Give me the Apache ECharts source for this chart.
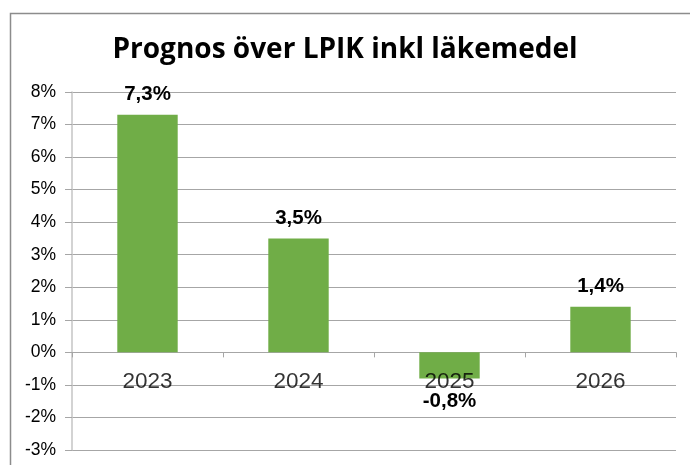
<!DOCTYPE html>
<html>
<head>
<meta charset="utf-8">
<script src="https://cdn.jsdelivr.net/npm/echarts@6/dist/echarts.min.js"></script>
<style>
  html, body { margin: 0; padding: 0; background: #fff; }
  #chart { width: 690px; height: 465px; }
</style>
</head>
<body>
<div id="chart"></div>
<script>
var years = ["2023", "2024", "2025", "2026"];
var values = [7.3, 3.5, -0.8, 1.4];  // procent
var yMin = -3, yMax = 8, yStep = 1;

var chart = echarts.init(document.getElementById("chart"));

// etikett ovanför positiva staplar, under negativa
var barData = values.map(function (v) {
    return {
        value: v,
        label: { position: v < 0 ? "bottom" : "top", distance: v < 0 ? 12 : 10 }
    };
});

// årtalen ligger på nollinjen
var yearMarks = years.map(function (y) { return [y, 0]; });

chart.setOption({
    animation: false,
    graphic: [{
        type: "rect",
        left: 8, top: 11,
        shape: { width: 700, height: 500, r: 0 },
        style: { fill: "none", stroke: "#8c8c8c", lineWidth: 1.5 },
        z: -1
    }],
    title: {
        text: "Prognos över LPIK inkl läkemedel",
        left: "center",
        top: 31,
        textStyle: {
            fontFamily: "Open Sans",
            fontWeight: "bold",
            fontSize: 28,
            color: "#000"
        }
    },
    grid: { left: 72, right: 14, top: 92, bottom: 15, outerBoundsMode: "none", containLabel: false },
    xAxis: {
        type: "category",
        data: years,
        axisLine: { onZero: true, onZeroAxisIndex: 0, lineStyle: { color: "#a6a6a6", width: 1 } },
        axisTick: { show: true, length: 5, lineStyle: { color: "#a6a6a6" } },
        axisLabel: { show: false },
        splitLine: { show: false }
    },
    yAxis: {
        type: "value",
        min: yMin,
        max: yMax,
        interval: yStep,
        axisLine: { show: true, lineStyle: { color: "#c4c4c4", width: 1.5 } },
        axisTick: { show: true, length: 7, lineStyle: { color: "#a6a6a6" } },
        axisLabel: {
            formatter: "{value}%",
            margin: 16,
            fontFamily: "Liberation Sans",
            fontSize: 17.5,
            color: "#000"
        },
        splitLine: { show: true, lineStyle: { color: "#a6a6a6", width: 1 } }
    },
    series: [{
        type: "bar",
        data: barData,
        barWidth: "40%",
        itemStyle: { color: "#70ad47" },
        label: {
            show: true,
            fontFamily: "Liberation Sans",
            fontWeight: "bold",
            fontSize: 20.5,
            color: "#000",
            formatter: function (p) {
                return p.value.toFixed(1).replace(".", ",") + "%";
            }
        }
    }, {
        type: "scatter",
        data: yearMarks,
        symbolSize: 0,
        silent: true,
        z: 5,
        label: {
            show: true,
            position: "bottom",
            distance: 18,
            fontFamily: "Liberation Sans",
            fontSize: 22.5,
            color: "#000",
            formatter: function (p) { return p.value[0]; }
        }
    }]
});
</script>
</body>
</html>
